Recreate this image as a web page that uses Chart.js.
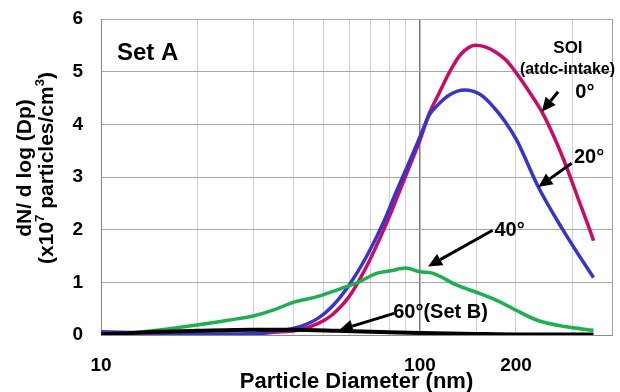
<!DOCTYPE html>
<html>
<head>
<meta charset="utf-8">
<script src="https://cdn.jsdelivr.net/npm/chart.js@4/dist/chart.umd.min.js"></script>
<style>
  html, body { margin: 0; padding: 0; background: #ffffff; }
  #wrap { width: 620px; height: 392px; position: relative; }
</style>
</head>
<body>
<div id="wrap"><canvas id="c" width="620" height="392"></canvas></div>
<script>
// ---- Data (particle diameter in nm, dN/dlog(Dp) in 1e7 particles/cm3) ----
const soi0x  = [10, 15, 20, 25, 30, 35, 42, 48, 53, 60, 68, 77, 84, 92, 100, 107, 115, 124, 133, 140, 149, 160, 172, 186, 199, 220, 241, 265, 288, 315, 341, 350];
const soi0y  = [0.01, 0.01, 0.01, 0.01, 0.02, 0.05, 0.10, 0.22, 0.38, 0.73, 1.30, 2.00, 2.55, 3.15, 3.70, 4.21, 4.60, 5.00, 5.30, 5.43, 5.50, 5.47, 5.38, 5.22, 5.00, 4.62, 4.24, 3.72, 3.19, 2.55, 1.99, 1.79];

const soi20x = [10, 15, 20, 25, 30, 35, 42, 48, 53, 60, 68, 77, 84, 92, 100, 107, 113, 124, 138, 155, 170, 185, 201, 235, 281, 320, 350];
const soi20y = [0.06, 0.04, 0.02, 0.02, 0.03, 0.07, 0.16, 0.32, 0.54, 0.95, 1.49, 2.15, 2.70, 3.25, 3.76, 4.18, 4.35, 4.56, 4.65, 4.56, 4.33, 4.05, 3.70, 2.81, 1.99, 1.45, 1.09];

const soi40x = [10, 12, 15, 20, 25, 30, 35, 40, 47, 57, 65, 73, 81, 90, 100, 110, 130, 155, 178, 200, 233, 284, 350];
const soi40y = [0.01, 0.03, 0.09, 0.19, 0.28, 0.36, 0.48, 0.62, 0.72, 0.89, 1.02, 1.17, 1.22, 1.27, 1.20, 1.17, 0.95, 0.78, 0.63, 0.47, 0.28, 0.16, 0.09];

const soi60x = [10, 15, 20, 30, 40, 55, 70, 100, 150, 200, 350];
const soi60y = [0.01, 0.06, 0.08, 0.10, 0.10, 0.08, 0.06, 0.04, 0.02, 0.01, 0.01];

const xTickLabels = [10, 100, 200];
const yTicks = [0, 1, 2, 3, 4, 5, 6];

// ---- Annotations (in data units) ----
const textNotes = [
  { text: 'Set A',          x: 14.0, y: 5.35, size: 24 },
  { text: 'SOI',            x: 291,  y: 5.45, size: 17 },
  { text: '(atdc-intake)',  x: 290,  y: 5.03, size: 16 },
  { text: '0°',             x: 329,  y: 4.61, size: 20 },
  { text: '20°',            x: 339,  y: 3.38, size: 20 },
  { text: '40°',            x: 191,  y: 1.99, size: 20 },
  { text: '60°(Set B)',     x: 116,  y: 0.42, size: 20 }
];
const arrows = [
  { from: [271, 4.62], to: [241, 4.24] },
  { from: [299, 3.26], to: [235, 2.81] },
  { from: [169, 1.99], to: [106, 1.30] },
  { from: [83, 0.41],  to: [55.7, 0.09] }
];

const FONT = '"Liberation Sans", Arial, Helvetica, sans-serif';

function pts(xs, ys) { return xs.map((x, i) => ({ x: x, y: ys[i] })); }

const annotPlugin = {
  id: 'annot',
  afterDatasetsDraw(chart) {
    const ctx = chart.ctx;
    const xs = chart.scales.x, ys = chart.scales.y;
    ctx.save();
    arrows.forEach(a => {
      const x1 = xs.getPixelForValue(a.from[0]), y1 = ys.getPixelForValue(a.from[1]);
      const x2 = xs.getPixelForValue(a.to[0]),   y2 = ys.getPixelForValue(a.to[1]);
      const ang = Math.atan2(y2 - y1, x2 - x1);
      const hl = 14, hw = 6.5;
      const bx = x2 - hl * Math.cos(ang), by = y2 - hl * Math.sin(ang);
      ctx.strokeStyle = '#000'; ctx.fillStyle = '#000'; ctx.lineWidth = 3;
      ctx.beginPath(); ctx.moveTo(x1, y1); ctx.lineTo(bx, by); ctx.stroke();
      ctx.beginPath();
      ctx.moveTo(x2, y2);
      ctx.lineTo(bx + hw * Math.sin(ang), by - hw * Math.cos(ang));
      ctx.lineTo(bx - hw * Math.sin(ang), by + hw * Math.cos(ang));
      ctx.closePath(); ctx.fill();
    });
    ctx.fillStyle = '#000';
    ctx.textAlign = 'center'; ctx.textBaseline = 'middle';
    textNotes.forEach(t => {
      ctx.font = 'bold ' + t.size + 'px ' + FONT;
      ctx.fillText(t.text, xs.getPixelForValue(t.x), ys.getPixelForValue(t.y));
    });
    ctx.restore();
  },
  afterDraw(chart) {
    const ctx = chart.ctx;
    const ca = chart.chartArea;
    ctx.save();
    ctx.fillStyle = '#000';
    ctx.font = 'bold 22px ' + FONT;
    ctx.textAlign = 'center'; ctx.textBaseline = 'middle';
    ctx.fillText('Particle Diameter (nm)', (ca.left + ca.right) / 2, 382);
    const cy = 168;
    ctx.save();
    ctx.translate(25, cy);
    ctx.rotate(-Math.PI / 2);
    ctx.font = 'bold 21px ' + FONT;
    ctx.fillText('dN/ d log (Dp)', 0, 0);
    ctx.restore();
    ctx.save();
    ctx.translate(47, cy);
    ctx.rotate(-Math.PI / 2);
    const big = 'bold 21px ' + FONT, small = 'bold 13px ' + FONT;
    const parts = [['(x10', big, 0], ['7', small, -7], [' particles/cm', big, 0], ['3', small, -7], [')', big, 0]];
    let total = 0;
    parts.forEach(p => { ctx.font = p[1]; total += ctx.measureText(p[0]).width; });
    let x = -total / 2;
    ctx.textAlign = 'left';
    parts.forEach(p => { ctx.font = p[1]; ctx.fillText(p[0], x, p[2]); x += ctx.measureText(p[0]).width; });
    ctx.restore();
    ctx.restore();
  }
};

new Chart(document.getElementById('c'), {
  type: 'line',
  data: {
    datasets: [
      { label: '60°(Set B)', data: pts(soi60x, soi60y), borderColor: '#000000', borderWidth: 4, order: 0 },
      { label: '40°', data: pts(soi40x, soi40y), borderColor: '#1DB04E', borderWidth: 3.5, order: 1 },
      { label: '20°', data: pts(soi20x, soi20y), borderColor: '#3535CC', borderWidth: 3.5, order: 2 },
      { label: '0°',  data: pts(soi0x, soi0y),   borderColor: '#CC0A66', borderWidth: 3.5, order: 3 }
    ]
  },
  options: {
    responsive: false,
    animation: false,
    devicePixelRatio: 1,
    layout: { padding: { top: 19, right: 8, left: 0, bottom: 0 } },
    elements: {
      point: { radius: 0 },
      line: { cubicInterpolationMode: 'monotone', fill: false, borderCapStyle: 'butt', borderJoinStyle: 'round' }
    },
    plugins: { legend: { display: false }, tooltip: { enabled: false } },
    scales: {
      x: {
        type: 'logarithmic',
        min: 10, max: 400,
        afterFit(s) { s.height = 57; },
        border: { color: '#8a8a8a', width: 1 },
        grid: {
          color(ctx) {
            const v = ctx.tick ? ctx.tick.value : 0;
            if (v === 100) return '#7a7a7a';
            if (v === 400 || v === 10) return '#a0a0a0';
            return '#d2d2d2';
          },
          lineWidth(ctx) { return (ctx.tick && ctx.tick.value === 100) ? 1.5 : 1; },
          drawTicks: true, tickLength: 19, tickColor: 'rgba(0,0,0,0)'
        },
        ticks: {
          autoSkip: false, maxRotation: 0, padding: 0,
          color: '#000', font: { family: FONT, size: 19, weight: 'bold' },
          callback(v) { return xTickLabels.includes(v) ? String(v) : ''; }
        }
      },
      y: {
        min: 0, max: 6,
        afterFit(s) { s.width = 101; },
        afterBuildTicks(s) { s.ticks = yTicks.map(v => ({ value: v })); },
        border: { color: '#8a8a8a', width: 1 },
        grid: { color: '#a8a8a8', drawTicks: true, tickLength: 18, tickColor: 'rgba(0,0,0,0)' },
        ticks: {
          padding: 0, color: '#000',
          font: { family: FONT, size: 19, weight: 'bold' }
        }
      }
    }
  },
  plugins: [annotPlugin]
});
</script>
</body>
</html>
